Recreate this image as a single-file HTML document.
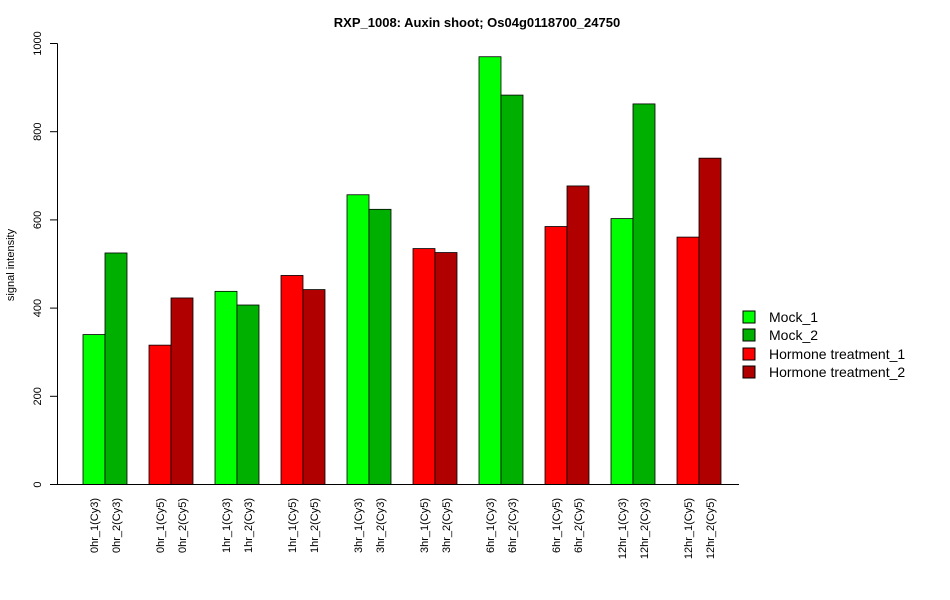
<!DOCTYPE html>
<html><head><meta charset="utf-8"><style>
body{margin:0;background:#fff;}
svg{display:block;font-family:"Liberation Sans",Arial,sans-serif;}
</style></head><body>
<svg id="chart" width="950" height="600">
<text x="477" y="27" text-anchor="middle" font-size="13" font-weight="bold">RXP_1008: Auxin shoot; Os04g0118700_24750</text>
<text transform="translate(14,265) rotate(-90)" text-anchor="middle" font-size="11">signal intensity</text>
<g id="yaxis"></g>
<g id="bars"></g>
<g id="xlabels"></g>
<line x1="50" y1="484.5" x2="739" y2="484.5" stroke="#000"/>
<g>
<g><rect x="743" y="311" width="12" height="12" fill="#00ff00" stroke="#000"/><text x="769" y="322" font-size="14">Mock_1</text></g>
<g><rect x="743" y="329" width="12" height="12" fill="#00b000" stroke="#000"/><text x="769" y="340" font-size="14">Mock_2</text></g>
<g><rect x="743" y="348" width="12" height="12" fill="#ff0000" stroke="#000"/><text x="769" y="359" font-size="14">Hormone treatment_1</text></g>
<g><rect x="743" y="366" width="12" height="12" fill="#b00000" stroke="#000"/><text x="769" y="377" font-size="14">Hormone treatment_2</text></g>
</g>
</svg>
<script>
const categories=["0hr_1(Cy3)","0hr_2(Cy3)","0hr_1(Cy5)","0hr_2(Cy5)","1hr_1(Cy3)","1hr_2(Cy3)","1hr_1(Cy5)","1hr_2(Cy5)","3hr_1(Cy3)","3hr_2(Cy3)","3hr_1(Cy5)","3hr_2(Cy5)","6hr_1(Cy3)","6hr_2(Cy3)","6hr_1(Cy5)","6hr_2(Cy5)","12hr_1(Cy3)","12hr_2(Cy3)","12hr_1(Cy5)","12hr_2(Cy5)"];
const values=[340,525,316,423,438,407,474,442,657,624,535,526,970,883,585,677,603,863,561,740];
const barColors=["#00ff00","#00b000","#ff0000","#b00000"];
const yTicks=[0,200,400,600,800,1000];
const NS="http://www.w3.org/2000/svg";
const y0=484.5,ppu=441/1000;
function yS(v){return y0-v*ppu;}
function xS(i){return 83+Math.floor(i/2)*66+(i%2)*22;}
const ya=document.getElementById('yaxis');
let l=document.createElementNS(NS,'line');
l.setAttribute('x1',57.5);l.setAttribute('x2',57.5);l.setAttribute('y1',yS(0));l.setAttribute('y2',yS(1000));l.setAttribute('stroke','#000');


ya.appendChild(l);
yTicks.forEach(t=>{
 const tk=document.createElementNS(NS,'line');
 tk.setAttribute('x1',50);tk.setAttribute('x2',57.5);tk.setAttribute('y1',yS(t));tk.setAttribute('y2',yS(t));tk.setAttribute('stroke','#000');
 
 
 ya.appendChild(tk);
 const tx=document.createElementNS(NS,'text');
 tx.setAttribute('transform',`translate(41,${yS(t)}) rotate(-90)`);tx.setAttribute('text-anchor','middle');tx.setAttribute('font-size','11');tx.textContent=t;
 
 
 ya.appendChild(tx);
});
const bg=document.getElementById('bars'),xl=document.getElementById('xlabels');
values.forEach((v,i)=>{
 const grp=Math.floor(i/2),c=barColors[(grp%2)*2+(i%2)];
 const r=document.createElementNS(NS,'rect');
 r.setAttribute('x',xS(i));r.setAttribute('width',22);r.setAttribute('y',yS(v));r.setAttribute('height',yS(0)-yS(v));
 r.setAttribute('fill',c);r.setAttribute('stroke','#000');r.setAttribute('stroke-width','0.8');
 
 
 bg.appendChild(r);
 const t=document.createElementNS(NS,'text');
 t.setAttribute('transform',`translate(${xS(i)+15},498) rotate(-90)`);t.setAttribute('text-anchor','end');t.setAttribute('font-size','11');t.textContent=categories[i];
 
 
 xl.appendChild(t);
});
</script>
</body></html>
